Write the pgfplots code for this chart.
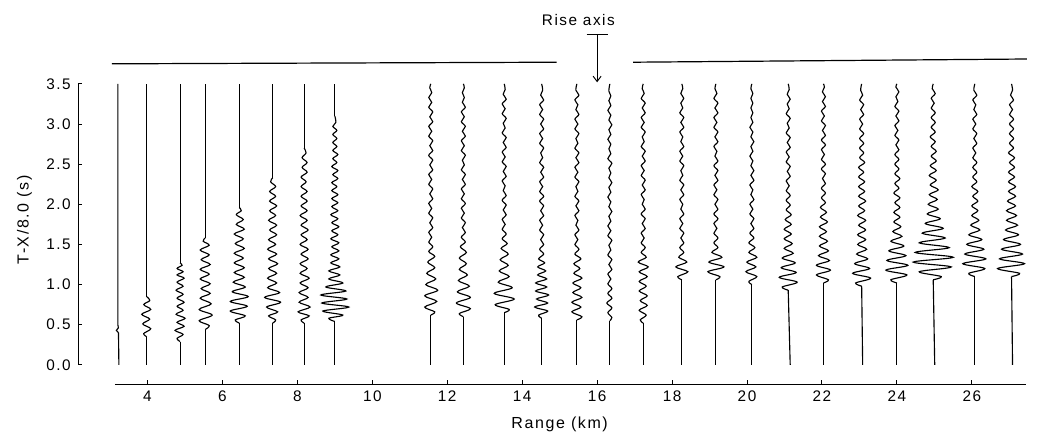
\documentclass[border=0pt]{standalone}
\usepackage{pgfplots}
\pgfplotsset{compat=1.18}
\usetikzlibrary{arrows.meta}
\usepackage{fontspec}
\setmainfont{Liberation Sans}[LetterSpace=10]
\pgfplotsset{trace/.style={black, line width=0.85pt, smooth, tension=0.55, no marks},
  seg/.style={black, line width=0.85pt, sharp plot, no marks}}
\begin{document}
\begin{tikzpicture}
\begin{axis}[
  x=28.1pt, y=60.2pt,
  xmin=2.15, xmax=27.5, ymin=0, ymax=3.5,
  axis x line=bottom, axis y line=left,
  axis x line shift=14.5pt,
  x axis line style={draw=none},
  y axis line style={-, line width=0.8pt},
  xtick={4,6,...,26}, ytick={0,0.5,...,3.5},
  yticklabel style={xshift=-2pt, /pgf/number format/.cd, fixed, fixed zerofill, precision=1},
  xticklabel style={yshift=-1.5pt},
  /pgf/number format/assume math mode=true,
  tick align=inside, major tick length=3pt,
  tick style={black, line width=0.7pt},
  ticklabel style={font=\fontsize{11.5}{13}\selectfont},
  clip=false,
  xlabel={Range (km)}, ylabel={T-X/8.0 (s)},
  label style={font=\fontsize{12}{14}\selectfont},
  xlabel style={at={(axis cs:15.0,-0.747)}, anchor=center},
  ylabel style={at={(axis cs:0.72,1.806)}, anchor=center, rotate=0},
]
% ---- straight parts of the traces (range km, time s)
\addplot[seg] coordinates {(3.237,0) (3.226,0.40)};
\addplot[seg] coordinates {(3.98,0) (3.98,0.35)};
\addplot[seg] coordinates {(3.98,0.85) (3.98,3.5)};
\addplot[seg] coordinates {(4.87,0) (4.87,0.29)};
\addplot[seg] coordinates {(4.87,1.27) (4.87,3.5)};
\addplot[seg] coordinates {(5.54,0) (5.54,0.44)};
\addplot[seg] coordinates {(5.54,1.58) (5.54,3.5)};
\addplot[seg] coordinates {(6.45,0) (6.45,0.52)};
\addplot[seg] coordinates {(6.45,1.96) (6.45,3.5)};
\addplot[seg] coordinates {(7.34,0) (7.34,0.52)};
\addplot[seg] coordinates {(7.34,2.33) (7.34,3.5)};
\addplot[seg] coordinates {(8.18,0) (8.18,0.52)};
\addplot[seg] coordinates {(8.18,2.70) (8.18,3.5)};
\addplot[seg] coordinates {(9.0,0) (9.0,0.54)};
\addplot[seg] coordinates {(9.0,3.10) (9.0,3.5)};
\addplot[seg] coordinates {(11.56,0) (11.56,0.62)};
\addplot[seg] coordinates {(12.43,0) (12.43,0.60)};
\addplot[seg] coordinates {(13.52,0) (13.52,0.65)};
\addplot[seg] coordinates {(14.52,0) (14.52,0.58)};
\addplot[seg] coordinates {(15.46,0) (15.46,0.56)};
\addplot[seg] coordinates {(16.34,0) (16.34,0.55)};
\addplot[seg] coordinates {(17.23,0) (17.23,0.52)};
\addplot[seg] coordinates {(18.26,0) (18.26,1.06)};
\addplot[seg] coordinates {(19.17,0) (19.17,1.06)};
\addplot[seg] coordinates {(20.13,0) (20.13,1.00)};
\addplot[seg] coordinates {(21.153,0) (21.1,0.93)};
\addplot[seg] coordinates {(22.04,0) (22.04,1.02)};
\addplot[seg] coordinates {(23.087,0) (23.06,0.98)};
\addplot[seg] coordinates {(24.0,0) (24.0,1.02)};
\addplot[seg] coordinates {(25.01,0) (24.97,1.06)};
\addplot[seg] coordinates {(26.08,0) (26.08,1.10)};
\addplot[seg] coordinates {(27.087,0) (27.06,1.10)};
% ---- wiggles (a = deflection in px of the original plot, t = time s)
% trace 1
\addplot[seg] table[row sep=\\, x expr=\thisrow{a}/37.47+3.21, y=t] {a t\\ 0.6 0.40\\ -1.5 0.43\\ 0.5 0.46\\ 0 0.50\\ 0 3.5\\};
% trace 2
\addplot[trace] table[row sep=\\, x expr=\thisrow{a}/37.47+3.98, y=t] {a t\\ 0 0.35\\ -3 0.39\\ 4 0.45\\ -4 0.51\\ 3 0.57\\ -5 0.63\\ 4 0.69\\ -3 0.75\\ 3 0.80\\ 0 0.85\\};
% trace 3
\addplot[trace] table[row sep=\\, x expr=\thisrow{a}/37.47+4.87, y=t] {a t\\ 0 0.29\\ -3 0.33\\ 3 0.38\\ -5 0.43\\ 4 0.48\\ -3 0.53\\ 5 0.58\\ -4 0.63\\ 3 0.68\\ -3 0.73\\ 4 0.78\\ -3 0.83\\ 3 0.88\\ -4 0.93\\ 3 0.98\\ -3 1.03\\ 4 1.08\\ -3 1.12\\ 3 1.16\\ -3 1.20\\ 2 1.24\\ 0 1.27\\};
% trace 4
\addplot[trace] table[row sep=\\, x expr=\thisrow{a}/37.47+5.54, y=t] {a t\\ 0 0.44\\ 4 0.49\\ -6 0.55\\ 7 0.62\\ -6 0.69\\ 6 0.76\\ -5 0.83\\ 5 0.89\\ -4 0.95\\ 5 1.01\\ -5 1.07\\ 4 1.13\\ -5 1.19\\ 5 1.25\\ -4 1.31\\ 4 1.37\\ -5 1.43\\ 4 1.49\\ -2 1.54\\ 0 1.58\\};
% trace 5
\addplot[trace] table[row sep=\\, x expr=\thisrow{a}/37.47+6.45, y=t] {a t\\ 0 0.52\\ -4 0.56\\ 6 0.61\\ -9 0.67\\ 8 0.73\\ -9 0.79\\ 9 0.85\\ -7 0.91\\ 6 0.97\\ -6 1.03\\ 5 1.09\\ -5 1.15\\ 5 1.21\\ -5 1.27\\ 4 1.33\\ -5 1.39\\ 5 1.45\\ -4 1.51\\ 4 1.57\\ -5 1.63\\ 5 1.69\\ -3 1.75\\ 4 1.81\\ -3 1.87\\ 2 1.92\\ 0 1.96\\};
% trace 6
\addplot[trace] table[row sep=\\, x expr=\thisrow{a}/37.47+7.34, y=t] {a t\\ 0 0.52\\ 3 0.56\\ -4 0.61\\ 5 0.66\\ -6 0.72\\ 8 0.78\\ -8 0.84\\ 7 0.90\\ -5 0.96\\ 4 1.02\\ -5 1.08\\ 4 1.14\\ -4 1.20\\ 5 1.26\\ -4 1.32\\ 4 1.38\\ -5 1.44\\ 3 1.50\\ -4 1.56\\ 4 1.62\\ -3 1.68\\ 4 1.74\\ -4 1.80\\ 3 1.86\\ -3 1.92\\ 4 1.98\\ -3 2.04\\ 3 2.10\\ -3 2.16\\ 3 2.22\\ -2 2.28\\ 0 2.33\\};
% trace 7
\addplot[trace] table[row sep=\\, x expr=\thisrow{a}/37.47+8.18, y=t] {a t\\ 0 0.52\\ -3 0.56\\ 5 0.61\\ -6 0.66\\ 6 0.72\\ -5 0.78\\ 4 0.84\\ -5 0.90\\ 4 0.96\\ -4 1.02\\ 5 1.08\\ -4 1.14\\ 3 1.20\\ -4 1.26\\ 4 1.32\\ -3 1.38\\ 4 1.44\\ -4 1.50\\ 3 1.56\\ -3 1.62\\ 4 1.68\\ -3 1.74\\ 3 1.80\\ -4 1.86\\ 3 1.92\\ -3 1.98\\ 3 2.04\\ -3 2.10\\ 3 2.16\\ -3 2.22\\ 2 2.28\\ -3 2.34\\ 3 2.40\\ -2 2.46\\ 3 2.52\\ -2 2.58\\ 2 2.64\\ 0 2.70\\};
% trace 8
\addplot[trace] table[row sep=\\, x expr=\thisrow{a}/37.47+9.0, y=t] {a t\\ 0 0.54\\ -6 0.58\\ 8 0.62\\ -12 0.67\\ 14 0.72\\ -13 0.77\\ 12 0.82\\ -14 0.87\\ 11 0.92\\ -9 0.97\\ 8 1.02\\ -6 1.07\\ 5 1.12\\ -6 1.17\\ 5 1.22\\ -4 1.27\\ 4 1.32\\ -4 1.37\\ 4 1.42\\ -3 1.47\\ 4 1.52\\ -4 1.57\\ 3 1.62\\ -3 1.67\\ 4 1.72\\ -3 1.77\\ 3 1.82\\ -4 1.87\\ 3 1.92\\ -3 1.97\\ 3 2.02\\ -3 2.07\\ 3 2.12\\ -3 2.17\\ 2 2.22\\ -3 2.27\\ 3 2.32\\ -2 2.37\\ 3 2.42\\ -3 2.47\\ 2 2.52\\ -2 2.57\\ 3 2.62\\ -2 2.67\\ 2 2.72\\ -2 2.77\\ 2 2.82\\ -2 2.87\\ 2 2.92\\ -2 2.97\\ 1 3.02\\ 0 3.1\\};
% trace 9
\addplot[trace] table[row sep=\\, x expr=\thisrow{a}/37.47+11.56, y=t] {a t\\ 0 0.62\\ 4 0.66\\ -6 0.72\\ 6 0.79\\ -6 0.86\\ 7 0.93\\ -5 1.00\\ 5 1.07\\ -4 1.14\\ 4 1.21\\ -3 1.28\\ 4 1.35\\ -2 1.41\\ 2 1.47\\ -2 1.53\\ 1 1.59\\ -2 1.65\\ 2 1.71\\ -1 1.77\\ 2 1.83\\ -2 1.89\\ 1 1.95\\ -2 2.01\\ 2 2.07\\ -1 2.13\\ 2 2.19\\ -2 2.25\\ 1 2.31\\ -2 2.37\\ 2 2.43\\ -1 2.49\\ 2 2.55\\ -2 2.61\\ 2 2.67\\ -1 2.73\\ 2 2.79\\ -2 2.85\\ 1 2.91\\ -2 2.97\\ 2 3.03\\ -1 3.09\\ 2 3.15\\ -2 3.21\\ 1 3.27\\ -2 3.33\\ 1 3.39\\ -1 3.45\\ 0 3.5\\};
% trace 10
\addplot[trace] table[row sep=\\, x expr=\thisrow{a}/37.47+12.43, y=t] {a t\\ 0 0.60\\ -4 0.64\\ 7 0.70\\ -7 0.77\\ 7 0.84\\ -6 0.91\\ 6 0.98\\ -5 1.05\\ 4 1.12\\ -4 1.19\\ 3 1.26\\ -4 1.33\\ 3 1.40\\ -3 1.47\\ 2 1.53\\ -2 1.59\\ 2 1.65\\ -1 1.71\\ 2 1.77\\ -2 1.83\\ 1 1.89\\ -2 1.95\\ 2 2.01\\ -2 2.07\\ 1 2.13\\ -2 2.19\\ 2 2.25\\ -1 2.31\\ 2 2.37\\ -2 2.43\\ 1 2.49\\ -1 2.55\\ 2 2.61\\ -2 2.67\\ 1 2.73\\ -2 2.79\\ 2 2.85\\ -1 2.91\\ 2 2.97\\ -2 3.03\\ 1 3.09\\ -2 3.15\\ 2 3.21\\ -1 3.27\\ 1 3.33\\ -1 3.39\\ 1 3.45\\ 0 3.5\\};
% trace 11
\addplot[trace] table[row sep=\\, x expr=\thisrow{a}/37.47+13.52, y=t] {a t\\ 0 0.65\\ 5 0.69\\ -9 0.75\\ 10 0.82\\ -10 0.89\\ 8 0.96\\ -6 1.03\\ 5 1.10\\ -5 1.17\\ 4 1.24\\ -4 1.31\\ 4 1.38\\ -3 1.45\\ 3 1.51\\ -2 1.57\\ 2 1.63\\ -2 1.69\\ 1 1.75\\ -2 1.81\\ 2 1.87\\ -1 1.93\\ 2 1.99\\ -2 2.05\\ 2 2.11\\ -1 2.17\\ 1 2.23\\ -2 2.29\\ 2 2.35\\ -1 2.41\\ 2 2.47\\ -2 2.53\\ 1 2.59\\ -2 2.65\\ 2 2.71\\ -1 2.77\\ 2 2.83\\ -2 2.89\\ 1 2.95\\ -1 3.01\\ 2 3.07\\ -2 3.13\\ 1 3.19\\ -2 3.25\\ 2 3.31\\ -1 3.37\\ 1 3.43\\ 0 3.5\\};
% trace 12
\addplot[trace] table[row sep=\\, x expr=\thisrow{a}/37.47+14.52, y=t] {a t\\ 0 0.58\\ -3 0.62\\ 6 0.67\\ -7 0.72\\ 6 0.77\\ -5 0.82\\ 7 0.87\\ -6 0.92\\ 5 0.97\\ -6 1.02\\ 5 1.07\\ -4 1.12\\ 4 1.17\\ -4 1.22\\ 3 1.27\\ -3 1.32\\ 2 1.38\\ -2 1.44\\ 2 1.50\\ -1 1.56\\ 2 1.62\\ -2 1.68\\ 1 1.74\\ -2 1.80\\ 2 1.86\\ -1 1.92\\ 2 1.98\\ -2 2.04\\ 2 2.10\\ -2 2.16\\ 1 2.22\\ -2 2.28\\ 2 2.34\\ -1 2.40\\ 2 2.46\\ -2 2.52\\ 1 2.58\\ -1 2.64\\ 2 2.70\\ -2 2.76\\ 1 2.82\\ -2 2.88\\ 2 2.94\\ -1 3.00\\ 2 3.06\\ -2 3.12\\ 1 3.18\\ -2 3.24\\ 2 3.30\\ -1 3.36\\ 1 3.42\\ 0 3.5\\};
% trace 13
\addplot[trace] table[row sep=\\, x expr=\thisrow{a}/37.47+15.46, y=t] {a t\\ 0 0.56\\ 5 0.60\\ -5 0.66\\ 4 0.72\\ -5 0.78\\ 5 0.84\\ -4 0.90\\ 4 0.96\\ -4 1.02\\ 5 1.08\\ -3 1.14\\ 3 1.20\\ -3 1.26\\ 4 1.32\\ -2 1.38\\ 2 1.44\\ -2 1.50\\ 1 1.56\\ -2 1.62\\ 2 1.68\\ -1 1.74\\ 1 1.80\\ -2 1.86\\ 2 1.92\\ -1 1.98\\ 2 2.04\\ -2 2.10\\ 1 2.16\\ -1 2.22\\ 2 2.28\\ -2 2.34\\ 1 2.40\\ -2 2.46\\ 2 2.52\\ -1 2.58\\ 2 2.64\\ -2 2.70\\ 1 2.76\\ -1 2.82\\ 2 2.88\\ -2 2.94\\ 1 3.00\\ -2 3.06\\ 2 3.12\\ -1 3.18\\ 1 3.24\\ -2 3.30\\ 2 3.36\\ -1 3.42\\ 0 3.5\\};
% trace 14
\addplot[trace] table[row sep=\\, x expr=\thisrow{a}/37.47+16.34, y=t] {a t\\ 0 0.55\\ 2 0.59\\ -2 0.65\\ 2 0.71\\ -3 0.77\\ 2 0.83\\ -2 0.89\\ 2 0.95\\ -2 1.01\\ 1 1.07\\ -2 1.13\\ 2 1.19\\ -1 1.25\\ 2 1.31\\ -2 1.37\\ 1 1.43\\ -1 1.49\\ 2 1.55\\ -2 1.61\\ 1 1.67\\ -2 1.73\\ 1 1.79\\ -1 1.85\\ 2 1.91\\ -1 1.97\\ 1 2.03\\ -2 2.09\\ 1 2.15\\ -1 2.21\\ 2 2.27\\ -1 2.33\\ 1 2.39\\ -1 2.45\\ 2 2.51\\ -2 2.57\\ 1 2.63\\ -1 2.69\\ 1 2.75\\ -2 2.81\\ 1 2.87\\ -1 2.93\\ 2 2.99\\ -1 3.05\\ 1 3.11\\ -2 3.17\\ 1 3.23\\ -1 3.29\\ 1 3.35\\ -1 3.41\\ 0 3.5\\};
% trace 15
\addplot[trace] table[row sep=\\, x expr=\thisrow{a}/37.47+17.23, y=t] {a t\\ 0 0.52\\ -3 0.56\\ 3 0.62\\ -4 0.68\\ 4 0.74\\ -3 0.80\\ 4 0.86\\ -4 0.92\\ 3 0.98\\ -4 1.04\\ 4 1.10\\ -4 1.16\\ 5 1.22\\ -5 1.28\\ 3 1.34\\ -2 1.40\\ 2 1.46\\ -2 1.52\\ 1 1.58\\ -2 1.64\\ 2 1.70\\ -1 1.76\\ 2 1.82\\ -2 1.88\\ 2 1.94\\ -1 2.00\\ 1 2.06\\ -2 2.12\\ 2 2.18\\ -1 2.24\\ 2 2.30\\ -2 2.36\\ 1 2.42\\ -2 2.48\\ 2 2.54\\ -1 2.60\\ 2 2.66\\ -2 2.72\\ 1 2.78\\ -1 2.84\\ 2 2.90\\ -2 2.96\\ 1 3.02\\ -2 3.08\\ 2 3.14\\ -1 3.20\\ 2 3.26\\ -2 3.32\\ 1 3.38\\ -1 3.44\\ 0 3.5\\};
% trace 16
\addplot[trace] table[row sep=\\, x expr=\thisrow{a}/37.47+18.26, y=t] {a t\\ 0 1.06\\ -4 1.10\\ 6 1.16\\ -6 1.22\\ 5 1.28\\ -3 1.34\\ 2 1.40\\ -2 1.46\\ 2 1.52\\ -1 1.58\\ 2 1.64\\ -2 1.70\\ 1 1.76\\ -2 1.82\\ 2 1.88\\ -1 1.94\\ 1 2.00\\ -2 2.06\\ 2 2.12\\ -1 2.18\\ 2 2.24\\ -2 2.30\\ 1 2.36\\ -1 2.42\\ 2 2.48\\ -2 2.54\\ 1 2.60\\ -2 2.66\\ 2 2.72\\ -1 2.78\\ 1 2.84\\ -2 2.90\\ 2 2.96\\ -1 3.02\\ 2 3.08\\ -2 3.14\\ 1 3.20\\ -1 3.26\\ 2 3.32\\ -1 3.38\\ 1 3.44\\ 0 3.5\\};
% trace 17
\addplot[trace] table[row sep=\\, x expr=\thisrow{a}/37.47+19.17, y=t] {a t\\ 0 1.06\\ 4 1.10\\ -8 1.16\\ 8 1.22\\ -7 1.28\\ 6 1.34\\ -4 1.40\\ 2 1.46\\ -2 1.52\\ 2 1.58\\ -2 1.64\\ 1 1.70\\ -2 1.76\\ 2 1.82\\ -2 1.88\\ 2 1.94\\ -1 2.00\\ 2 2.06\\ -2 2.12\\ 1 2.18\\ -2 2.24\\ 2 2.30\\ -1 2.36\\ 2 2.42\\ -2 2.48\\ 2 2.54\\ -1 2.60\\ 1 2.66\\ -2 2.72\\ 2 2.78\\ -1 2.84\\ 2 2.90\\ -2 2.96\\ 1 3.02\\ -2 3.08\\ 2 3.14\\ -1 3.20\\ 2 3.26\\ -2 3.32\\ 1 3.38\\ -1 3.44\\ 0 3.5\\};
% trace 18
\addplot[trace] table[row sep=\\, x expr=\thisrow{a}/37.47+20.13, y=t] {a t\\ 0 1.00\\ -3 1.04\\ 5 1.10\\ -6 1.16\\ 4 1.22\\ -5 1.28\\ 5 1.34\\ -3 1.40\\ 3 1.46\\ -3 1.52\\ 2 1.58\\ -2 1.64\\ 2 1.70\\ -1 1.76\\ 2 1.82\\ -2 1.88\\ 1 1.94\\ -2 2.00\\ 2 2.06\\ -1 2.12\\ 1 2.18\\ -2 2.24\\ 2 2.30\\ -1 2.36\\ 2 2.42\\ -1 2.48\\ 1 2.54\\ -2 2.60\\ 1 2.66\\ -1 2.72\\ 2 2.78\\ -1 2.84\\ 1 2.90\\ -2 2.96\\ 1 3.02\\ -1 3.08\\ 1 3.14\\ -1 3.20\\ 1 3.26\\ -1 3.32\\ 1 3.38\\ -1 3.44\\ 0 3.5\\};
% trace 19
\addplot[trace] table[row sep=\\, x expr=\thisrow{a}/37.47+21.1, y=t] {a t\\ 0 0.93\\ -6 0.97\\ 9 1.03\\ -9 1.09\\ 8 1.15\\ -7 1.21\\ 7 1.27\\ -6 1.33\\ 5 1.39\\ -4 1.45\\ 4 1.51\\ -4 1.57\\ 3 1.63\\ -4 1.69\\ 3 1.75\\ -3 1.81\\ 3 1.87\\ -2 1.93\\ 2 1.99\\ -2 2.05\\ 2 2.11\\ -2 2.17\\ 1 2.23\\ -2 2.29\\ 2 2.35\\ -1 2.41\\ 2 2.47\\ -2 2.53\\ 1 2.59\\ -2 2.65\\ 2 2.71\\ -1 2.77\\ 2 2.83\\ -2 2.89\\ 1 2.95\\ -1 3.01\\ 2 3.07\\ -2 3.13\\ 1 3.19\\ -1 3.25\\ 2 3.31\\ -1 3.37\\ 1 3.43\\ 0 3.5\\};
% trace 20
\addplot[trace] table[row sep=\\, x expr=\thisrow{a}/37.47+22.04, y=t] {a t\\ 0 1.02\\ 5 1.06\\ -7 1.12\\ 7 1.18\\ -7 1.24\\ 6 1.30\\ -5 1.36\\ 5 1.42\\ -4 1.48\\ 4 1.54\\ -4 1.60\\ 3 1.66\\ -4 1.72\\ 4 1.78\\ -3 1.84\\ 3 1.90\\ -3 1.96\\ 2 2.02\\ -2 2.08\\ 2 2.14\\ -2 2.20\\ 2 2.26\\ -1 2.32\\ 2 2.38\\ -2 2.44\\ 2 2.50\\ -2 2.56\\ 1 2.62\\ -2 2.68\\ 2 2.74\\ -2 2.80\\ 2 2.86\\ -1 2.92\\ 2 2.98\\ -2 3.04\\ 1 3.10\\ -2 3.16\\ 2 3.22\\ -1 3.28\\ 2 3.34\\ -1 3.40\\ 1 3.46\\ 0 3.5\\};
% trace 21
\addplot[trace] table[row sep=\\, x expr=\thisrow{a}/37.47+23.06, y=t] {a t\\ 0 0.98\\ -6 1.02\\ 9 1.08\\ -9 1.14\\ 8 1.20\\ -7 1.26\\ 6 1.32\\ -5 1.38\\ 5 1.44\\ -4 1.50\\ 4 1.56\\ -4 1.62\\ 4 1.68\\ -3 1.74\\ 4 1.80\\ -4 1.86\\ 3 1.92\\ -3 1.98\\ 4 2.04\\ -3 2.10\\ 3 2.16\\ -3 2.22\\ 3 2.28\\ -3 2.34\\ 2 2.40\\ -3 2.46\\ 3 2.52\\ -2 2.58\\ 2 2.64\\ -2 2.70\\ 2 2.76\\ -2 2.82\\ 2 2.88\\ -2 2.94\\ 1 3.00\\ -2 3.06\\ 2 3.12\\ -1 3.18\\ 2 3.24\\ -2 3.30\\ 1 3.36\\ -1 3.42\\ 0 3.5\\};
% trace 22
\addplot[trace] table[row sep=\\, x expr=\thisrow{a}/37.47+24.0, y=t] {a t\\ 0 1.02\\ -6 1.06\\ 10 1.12\\ -11 1.18\\ 11 1.24\\ -10 1.30\\ 9 1.36\\ -8 1.42\\ 7 1.48\\ -6 1.54\\ 5 1.60\\ -4 1.66\\ 4 1.72\\ -3 1.78\\ 3 1.84\\ -3 1.90\\ 3 1.96\\ -2 2.02\\ 3 2.08\\ -3 2.14\\ 2 2.20\\ -2 2.26\\ 3 2.32\\ -2 2.38\\ 2 2.44\\ -2 2.50\\ 2 2.56\\ -2 2.62\\ 2 2.68\\ -1 2.74\\ 2 2.80\\ -2 2.86\\ 1 2.92\\ -2 2.98\\ 2 3.04\\ -1 3.10\\ 2 3.16\\ -2 3.22\\ 1 3.28\\ -1 3.34\\ 2 3.40\\ -1 3.46\\ 0 3.5\\};
% trace 23
\addplot[trace] table[row sep=\\, x expr=\thisrow{a}/37.47+24.97, y=t] {a t\\ 0 1.06\\ 8 1.10\\ -14 1.16\\ 18 1.22\\ -20 1.28\\ 20 1.34\\ -18 1.40\\ 16 1.46\\ -14 1.52\\ 12 1.58\\ -11 1.64\\ 10 1.70\\ -8 1.76\\ 7 1.82\\ -6 1.88\\ 5 1.94\\ -5 2.00\\ 4 2.06\\ -4 2.12\\ 5 2.18\\ -3 2.24\\ 3 2.30\\ -4 2.36\\ 3 2.42\\ -3 2.48\\ 3 2.54\\ -2 2.60\\ 3 2.66\\ -2 2.72\\ 2 2.78\\ -3 2.84\\ 2 2.90\\ -2 2.96\\ 2 3.02\\ -2 3.08\\ 2 3.14\\ -2 3.20\\ 1 3.26\\ -2 3.32\\ 2 3.38\\ -1 3.44\\ 0 3.5\\};
% trace 24
\addplot[trace] table[row sep=\\, x expr=\thisrow{a}/37.47+26.08, y=t] {a t\\ 0 1.10\\ -6 1.14\\ 10 1.20\\ -12 1.26\\ 11 1.32\\ -10 1.38\\ 9 1.44\\ -8 1.50\\ 7 1.56\\ -6 1.62\\ 5 1.68\\ -4 1.74\\ 4 1.80\\ -3 1.86\\ 3 1.92\\ -3 1.98\\ 3 2.04\\ -2 2.10\\ 3 2.16\\ -3 2.22\\ 2 2.28\\ -2 2.34\\ 2 2.40\\ -2 2.46\\ 2 2.52\\ -2 2.58\\ 1 2.64\\ -2 2.70\\ 2 2.76\\ -1 2.82\\ 2 2.88\\ -2 2.94\\ 1 3.00\\ -2 3.06\\ 2 3.12\\ -1 3.18\\ 1 3.24\\ -2 3.30\\ 2 3.36\\ -1 3.42\\ 0 3.5\\};
% trace 25
\addplot[trace] table[row sep=\\, x expr=\thisrow{a}/37.47+27.06, y=t] {a t\\ 0 1.10\\ 8 1.14\\ -14 1.20\\ 13 1.26\\ -12 1.32\\ 11 1.38\\ -10 1.44\\ 9 1.50\\ -8 1.56\\ 7 1.62\\ -6 1.68\\ 6 1.74\\ -5 1.80\\ 5 1.86\\ -5 1.92\\ 4 1.98\\ -4 2.04\\ 4 2.10\\ -3 2.16\\ 4 2.22\\ -3 2.28\\ 3 2.34\\ -3 2.40\\ 3 2.46\\ -2 2.52\\ 3 2.58\\ -3 2.64\\ 2 2.70\\ -2 2.76\\ 2 2.82\\ -2 2.88\\ 2 2.94\\ -2 3.00\\ 2 3.06\\ -2 3.12\\ 1 3.18\\ -2 3.24\\ 2 3.30\\ -1 3.36\\ 1 3.42\\ 0 3.5\\};
% x axis line (shifted)
\draw[black, line width=0.8pt] (axis cs:3.13,-0.241) -- (axis cs:27.45,-0.241);
% top lines
\draw[black, line width=0.9pt] (axis cs:3.05,3.75) -- (axis cs:14.92,3.77);
\draw[black, line width=0.9pt] (axis cs:16.96,3.77) -- (axis cs:27.47,3.81);
% rise axis
\draw[black, line width=0.7pt] (axis cs:15.72,4.11) -- (axis cs:16.29,4.11);
\draw[black, line width=0.7pt, -{Straight Barb[length=4pt,width=6pt]}] (axis cs:16.0,4.11) -- (axis cs:16.0,3.52);
\node[font=\fontsize{11.5}{13}\selectfont] at (axis cs:15.5,4.30) {Rise axis};
\coordinate (BL) at (axis cs:0.064,-0.872);
\coordinate (TR) at (axis cs:28.30,4.545);
\end{axis}
\pgfresetboundingbox
\path (BL) rectangle (TR);
\end{tikzpicture}
\end{document}
